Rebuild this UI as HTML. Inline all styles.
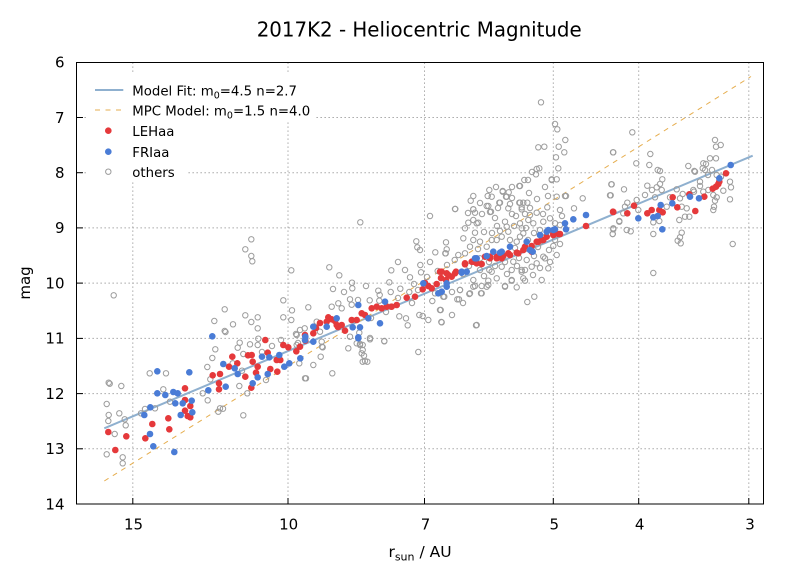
<!DOCTYPE html>
<html>
<head>
<meta charset="utf-8">
<style>
  html,body{margin:0;padding:0;background:#fff;}
  svg{display:block;}
  text{font-family:"DejaVu Sans","Liberation Sans",sans-serif;fill:#000;}
</style>
</head>
<body>
<svg width="795" height="585" viewBox="0 0 795 585" xmlns="http://www.w3.org/2000/svg">
  <defs>
    <marker id="o" markerUnits="userSpaceOnUse" markerWidth="10" markerHeight="10" refX="5" refY="5" overflow="visible">
      <circle cx="5" cy="5" r="2.7" fill="none" stroke="#9c9c9c" stroke-width="1"/>
    </marker>
    <marker id="r" markerUnits="userSpaceOnUse" markerWidth="10" markerHeight="10" refX="5" refY="5" overflow="visible">
      <circle cx="5" cy="5" r="3.3" fill="#e5393b"/>
    </marker>
    <marker id="b" markerUnits="userSpaceOnUse" markerWidth="10" markerHeight="10" refX="5" refY="5" overflow="visible">
      <circle cx="5" cy="5" r="3.3" fill="#4a7cd6"/>
    </marker>
  </defs>

  <rect x="0" y="0" width="795" height="585" fill="#fff"/>

  <!-- title -->
  <text x="256.7" y="36.7" font-size="20" textLength="325" lengthAdjust="spacingAndGlyphs">2017K2 - Heliocentric Magnitude</text>

  <!-- grid -->
  <g stroke="#999" stroke-width="1" stroke-dasharray="1.3,2.7" fill="none">
    <line x1="132.8" y1="62.5" x2="132.8" y2="504"/>
    <line x1="288" y1="62.5" x2="288" y2="504"/>
    <line x1="424.5" y1="62.5" x2="424.5" y2="504"/>
    <line x1="553.3" y1="62.5" x2="553.3" y2="504"/>
    <line x1="638.7" y1="62.5" x2="638.7" y2="504"/>
    <line x1="748.8" y1="62.5" x2="748.8" y2="504"/>
    <line x1="76.5" y1="117.5" x2="763.5" y2="117.5"/>
    <line x1="76.5" y1="172.7" x2="763.5" y2="172.7"/>
    <line x1="76.5" y1="227.9" x2="763.5" y2="227.9"/>
    <line x1="76.5" y1="283.1" x2="763.5" y2="283.1"/>
    <line x1="76.5" y1="338.4" x2="763.5" y2="338.4"/>
    <line x1="76.5" y1="393.6" x2="763.5" y2="393.6"/>
    <line x1="76.5" y1="448.8" x2="763.5" y2="448.8"/>
  </g>

  <!-- legend background -->
  <rect x="86" y="72" width="228" height="49" fill="#fff"/>
  <rect x="86" y="120" width="100" height="62" fill="#fff"/>

  <!-- model lines -->
  <line x1="104.3" y1="428.3" x2="752.7" y2="155.7" stroke="#8fb0cf" stroke-width="2"/>
  <line x1="104.3" y1="481" x2="751" y2="76.5" stroke="#e6ae4f" stroke-width="1" stroke-dasharray="5,5"/>

  <!-- others -->
  <polyline fill="none" stroke="none" marker-start="url(#o)" marker-mid="url(#o)" marker-end="url(#o)" points="
113.7,295.3 108.7,382.7 109.7,383.7 121.3,386 106.7,404 108.7,415 108.3,421 119.3,413.3 124.7,419.3 125.7,425.3 114.7,434 106.7,454.3 122.7,457.3 122.7,463.3 141,413.3 145,409 149.7,373.3 166,373.3 163.3,389.3 155,408.3 170,401.7 245.3,249.3 251.3,239.3 251.3,256 252.3,261.3 291.3,270.3 283.3,300.3 292,310.3 283.3,317.3 291.3,320 224.7,309.3 214.3,321 224.7,331 225.5,332 233,324.3 245.3,315.3 251.3,322 257.7,317.3 257.7,328.3 258.3,338.7 239.7,342.7 237.7,347.7 250,344.3 215.3,349.3 212.3,358 207.3,367 210.3,379.3 202.7,393.3 207.7,400.3 220,408.3 223,408.7 218.3,411.7 243.3,415.3 239.3,386 247.3,393.3 232.7,363.3 242,370.7 243.3,354 257.7,345 266,380 296,334 305,378.3 300,330 262,352 272,346 281,340 298,343
360.3,222.3 430,216 455.3,209 329.3,267.3 339.3,275.3 391.3,270.3 416.3,241.3 417.3,247.3 420,250 446,242.3 435.3,252.3 445.3,253.3 454.7,260 420.3,265 421,272.3 410,277.3 414,284 437.7,271 352,282.7 352.3,288.3 378.3,290.7 379.7,295 389.3,282.3 390.7,292 400.3,288.7 409.3,292 308.3,307.3 331.7,306.7 338.3,303.3 341.7,308.3 350,299.3 358,300 351.7,304.7 369.7,300.3 379.3,300.7 390.7,306.7 399.3,316.3 406,318.3 407.7,325.3 419.3,315 422.7,316 428.3,320 440,310 441.3,322 432.3,301 435,293.3 443.3,296.7 457.3,299.3 460,290 469.3,294 473.3,286.7 481,293.3 476.7,325 488.3,280.7 489.3,270 481.7,286 316.7,321.7 320,331.7 304.7,328.3 322,346.7 320.7,356.7 313.3,365 348.3,348.3 360,344 361.7,353.3 365,361 370,338 384.3,341 418.3,352
296.7,335 296.7,345 321.7,341.7 322.7,347.3 299.3,363.3 306,378.3 332.3,373.3 350,336.7 356.7,343.3 360,345 362.7,345 362.7,350 364,355.7 362.7,361.7 367.3,361.7 370,339.3 384.3,341.3 359.3,332.7
541,102.3 555,124 557.3,129.3 565.3,140 558.7,146.7 564.3,152.3 538.3,147.3 544.3,146.7 556,157.3 613,152.3 558.3,168.3 536.7,169 539.3,168.3 536,174.3 524.3,180 551.7,179.3 556.7,179.3 519.3,186 489.3,190 502.7,191 508.7,192.3 506,196.7 491.7,196.7 473.3,196 470.7,200.7 486.7,206 499.3,202.7 519.3,202.7 523.3,202.7 527.3,202.7 521.7,207.3 556.7,196.7 566,196 582.7,198.3 610.7,195.3 611.3,184.3 547.3,207.3 574,208.3 455,209 473.3,209.3 490,212 508.3,208.3 468.3,222.7 476.7,223.3 613.3,228.3 612.7,234 619.3,221.7 445.7,253.3 446.7,249.3 458.3,255 460,290 459,299.3 470,293.3 481.7,293.3 475,286 488.3,285 505,286.7 511.7,280.7 525,280.7 527.3,302 534.3,296.7 476,325.3 440.7,310 441.7,322.3 444.3,296.7 553.3,246 543.3,256.7 525,270 521.7,270
520,186 551.7,180 487.7,196 502.7,191.7 506.7,196.7 488.3,206 500,202.7 520,202.7 473.3,209.3 475,212.7 491,211.7 521.7,209.3 536.7,212.7 560,210 565,196 473.3,220 478.3,222.7 465,228.3 475,232.7 505,221.7 506.7,226.7 508.3,231.7 520,223.3 521.7,228.3 523.3,233.3 520,236.7 528.3,220 533.3,223.3 543.3,221.7 550,218.3 555,223.3 463.3,238.3 473.3,240 480,241.7 470,246.7 486.7,246.7 491.7,240 496.7,240 501.7,236.7 510,240 516.7,241.7 555,240 465,253.3 480,258.3 503.3,256.7 513.3,261.7 526.7,260 536.7,263.3 545,258.3 556.7,255 480,270 491.7,271.7 501.7,266.7 511.7,270 521.7,271.7 531.7,266.7 548.3,268.3 473.3,280 496.7,278.3 511.7,280 523.3,278.3 541.7,280 486.7,286.7 505,286 516.7,287.3 530,215 540,230 512,214 497,226 484,232 528,240 538,247 495,218 482,214 515,248 549,250 560,244
498,208 510,204 516,216 526,228 534,233 545,237 500,231 492,233 478,249 489,262 469,266 463,274 484,276 507,274 533,275 540,268 550,262 505,262 495,266 517,266 530,208 543,214 560,225 562,216 468,213 480,203 496,187 512,187 529,193 545,187 548,196 537,199 528,180 532,172 512,198 525,214 514,226 540,242 534,256 519,258 552,231
398,262 405,270 427,277 418,290 430,262 447,265 452,292 463,303 452,315 398,298 386,312 371,318 344,292 366,286 333,289 412,303
632.3,132.3 613.3,152.3 650.3,154 636.3,163.3 649.3,165 657.7,170 660,171 611.7,184.3 610,195.3 624,189.3 662.3,179.3 647.3,185.7 652,190 656.7,187.3 660,184 661.7,190 645,195 655,197.3 676.7,189.3 682.7,194 688.3,166 694.3,171 702.7,168.3 705,170 706,164 710,158.3 716,158.3 715,140 716,146.7 720.7,145 716.7,175 721,176.7 730,181.7 731,187.3 723.3,190.7 700,181.7 694,191.7 703.3,191.7 708.3,190 713.3,195 716.7,197.3 715,200.7 714,206.7 713.3,210 730,199.3 732.7,244 627.3,202.7 625,206.7 623.3,213.3 636.7,200 638.3,210 619.3,221 613.3,229.3 612.7,234 626.7,230 630.7,231.3 653.3,222.3 659.3,221 653.3,234 680,198.3 681.7,206.7 679.3,220 685,216.7 689.3,216.7 686.7,208.3 681.7,232.7 680,237.3 677.7,240.7 680.7,243.3 653.3,273 666.7,206.7 670,197.3 703.3,163.3 695,171.7 693.3,190 700,186 708,175 712,170"/>

  <!-- LEHaa -->
  <polyline fill="none" stroke="none" marker-start="url(#r)" marker-mid="url(#r)" marker-end="url(#r)" points="
108.3,432 115.3,450 126.3,436.3 145.3,438.3 152.3,424 168.3,418.3 169.3,429.3 185,388.3 185,400 190.3,406 185,410.7 187.7,416 190.3,417.3 212.7,375.3 220,374 219,383.3 219,389.3 229,366.7 232.3,356.7 237.3,363.3 245.3,376.7 248,355.3 251.7,355 252.7,361.7 257.7,366.7 256,372.7 251.3,387.7 265.3,340 267.7,352.7 270.3,369 276.7,360 277.3,371.7 280.3,360 283.3,345 288.3,347.3 296.3,351.3 305.3,340.7
300,346.7 305,335 313.3,333.3 316,328 320,323 328.3,317.3 331.7,319.3 326.7,321.7 335,321 338,327 336.7,325 341.7,325 345,330.7 351.7,320 356.7,320 361.7,313.3 365,315 371.7,308.3 376.7,306.7 381.7,308.3 386.7,306.7 391.7,306.7 396.7,305 406.7,297.7 415,296.7 422.7,289.3 425,283 428.3,286 431.7,288.3 436.7,284 441,278 440,271.7 446,280 446.7,273.3 451.7,276.7 456,271.7 465,263.3 473.3,261.7 481.7,264 490,256.7 496.7,256.7
441.7,271.7 448.3,275 455,273.3 465,264.3 471.7,261.7 476.7,263.3 485,256.7 490,258.3 496.7,258.3 501.7,258.3 503.3,255.7 508.3,253.3 510,255 516.7,252.7 518.3,253.3 523.3,250 525,246.7 531.7,251.7 531.7,246 536.7,241.7 538.3,241.7 541.7,240 543.3,240 546.7,236.7 553.3,235 553.3,234 558.3,234 560,234 586,226 613.3,212
613,211.7 627.3,213.3 634,205.7 647.3,213.3 651.7,210 659.3,210 662.7,212.3 672.7,197.3 677.3,207.3 689.3,194.3 695.3,211 704.3,196.7 712.7,188.7 716,186.7 718.3,184 719.3,181.7 726,173.3"/>

  <!-- FRIaa -->
  <polyline fill="none" stroke="none" marker-start="url(#b)" marker-mid="url(#b)" marker-end="url(#b)" points="
212.3,336.3 157.3,371.3 189.3,372.3 157.3,393.3 165.3,395 173.3,392 177.7,393.3 175.3,403.3 182.7,403.3 191.7,400.7 192.3,412.3 180.7,415 150.3,407.3 144.3,415 150,434 153.3,446.3 174.3,452 208.3,390.3 223.3,364 225.7,386.7 234.7,368.3 237.7,374 252.7,383.3 257.7,377.3 262,356.7 267.7,374 269.3,357.3 279.3,355 284.3,366.7 289.3,363.3 300.3,358.3 305.3,336.7
313.3,326.7 358.3,305 385,301.7 368.3,318.3 380,323.3 360,327.3 352.7,327.3 358.3,337.3 336.7,318.3 326.7,326.7 305,340 313.3,341.7 423.3,283.3 438.3,293.3 446.7,286.7 461.7,271.7 476.7,258.3 493.3,251.7 358.3,338.3
446.7,283.3 461.7,272.7 466.7,271.7 475,258.3 486.7,256 500,252.7 501.7,251.7 510,246.7 526.7,241.7 530,250 532.7,251.7 540,235 546.7,231.7 548.3,230 553.3,230 555,229.3 565,223.3 566,229.3 573.3,219.3 586,215 441.7,291.7
638.3,218.3 653.3,217.3 657.7,216 660.7,205 662.3,229.3 672.3,203.3 690,196.7 699,198.3 719.3,178.3 730.7,165"/>

  <!-- axes frame -->
  <rect x="76.5" y="62.5" width="687" height="441.5" fill="none" stroke="#000" stroke-width="1"/>

  <!-- ticks -->
  <g stroke="#000" stroke-width="1">
    <line x1="132.8" y1="504" x2="132.8" y2="498"/>
    <line x1="288" y1="504" x2="288" y2="498"/>
    <line x1="424.5" y1="504" x2="424.5" y2="498"/>
    <line x1="553.3" y1="504" x2="553.3" y2="498"/>
    <line x1="638.7" y1="504" x2="638.7" y2="498"/>
    <line x1="748.8" y1="504" x2="748.8" y2="498"/>
    <line x1="76.5" y1="117.5" x2="83" y2="117.5"/>
    <line x1="76.5" y1="172.7" x2="83" y2="172.7"/>
    <line x1="76.5" y1="227.9" x2="83" y2="227.9"/>
    <line x1="76.5" y1="283.1" x2="83" y2="283.1"/>
    <line x1="76.5" y1="338.4" x2="83" y2="338.4"/>
    <line x1="76.5" y1="393.6" x2="83" y2="393.6"/>
    <line x1="76.5" y1="448.8" x2="83" y2="448.8"/>
  </g>

  <!-- y tick labels -->
  <g font-size="15" text-anchor="end">
    <text x="64.5" y="67.6">6</text>
    <text x="64.5" y="122.8">7</text>
    <text x="64.5" y="178">8</text>
    <text x="64.5" y="233.2">9</text>
    <text x="64.5" y="288.4">10</text>
    <text x="64.5" y="343.7">11</text>
    <text x="64.5" y="398.9">12</text>
    <text x="64.5" y="454.1">13</text>
    <text x="64.5" y="509.3">14</text>
  </g>

  <!-- x tick labels -->
  <g font-size="15" text-anchor="middle">
    <text x="133.5" y="529.3">15</text>
    <text x="288.7" y="529.3">10</text>
    <text x="425.5" y="529.3">7</text>
    <text x="554.3" y="529.3">5</text>
    <text x="639.7" y="529.3">4</text>
    <text x="750" y="529.3">3</text>
  </g>

  <!-- axis labels -->
  <text x="420" y="557" font-size="15.5" text-anchor="middle">r<tspan font-size="11" dy="3.5">sun</tspan><tspan dy="-3.5"> / AU</tspan></text>
  <text transform="translate(30,283) rotate(-90)" font-size="15" text-anchor="middle">mag</text>

  <!-- legend -->
  <line x1="95" y1="90" x2="123.3" y2="90" stroke="#8fb0cf" stroke-width="2"/>
  <line x1="95" y1="110" x2="124" y2="110" stroke="#e6ae4f" stroke-width="1" stroke-dasharray="5,5.5"/>
  <circle cx="108.3" cy="130.7" r="3.3" fill="#e5393b"/>
  <circle cx="108.3" cy="151.7" r="3.3" fill="#4a7cd6"/>
  <circle cx="108.3" cy="171.7" r="2.7" fill="none" stroke="#9c9c9c" stroke-width="1"/>
  <g font-size="13.3">
    <text x="132.3" y="95.3">Model Fit: m<tspan font-size="9.5" dy="3">0</tspan><tspan dy="-3">=4.5 n=2.7</tspan></text>
    <text x="132.3" y="115.3">MPC Model: m<tspan font-size="9.5" dy="3">0</tspan><tspan dy="-3">=1.5 n=4.0</tspan></text>
    <text x="132.3" y="136">LEHaa</text>
    <text x="132.3" y="157">FRIaa</text>
    <text x="132.3" y="177">others</text>
  </g>
</svg>
</body>
</html>
